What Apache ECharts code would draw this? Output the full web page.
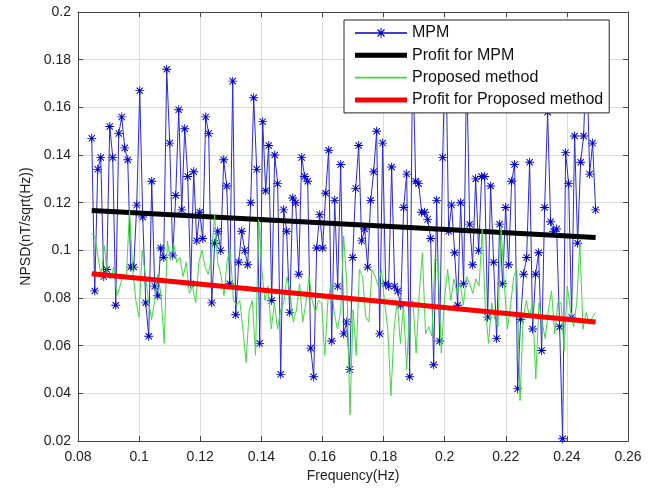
<!DOCTYPE html>
<html>
<head>
<meta charset="utf-8">
<script src="https://cdn.jsdelivr.net/npm/echarts@6/dist/echarts.min.js"></script>
<style>
html,body{margin:0;padding:0;background:#fff;}
#chart{width:656px;height:488px;}
</style>
</head>
<body>
<div id="chart"></div>
<script>
// Frequency grid of the measured spectra (Hz)
const freqStart = 0.0845;
const freqEnd = 0.2494;

// MPM NPSD values (nT/sqrt(Hz))
const mpm = [
0.147,0.083,0.134,0.139,0.089,0.092,0.152,0.139,0.077,0.149,0.156,0.143,0.138,0.093,0.093,0.119,0.167,0.114,0.078,0.064,0.129,0.085,0.081,0.101,0.097,0.176,0.145,0.098,0.123,0.159,0.117,0.151,0.131,0.086,0.133,0.104,0.116,0.105,0.156,0.149,0.078,0.103,0.108,0.100,0.138,
0.127,0.086,0.171,0.073,0.095,0.108,0.100,0.094,0.120,0.164,0.134,0.061,0.154,0.125,0.144,0.079,0.140,0.128,0.048,0.117,0.108,0.074,0.122,0.120,0.090,0.139,0.131,0.129,0.059,0.047,0.101,0.115,0.101,0.124,0.142,0.062,0.121,0.085,0.136,0.065,0.070,0.050,0.097,0.126,0.144,
0.104,0.109,0.093,0.121,0.133,0.150,0.065,0.145,0.086,0.085,0.135,0.085,0.083,0.077,0.118,0.132,0.047,0.185,0.129,0.128,0.116,0.116,0.113,0.105,0.052,0.121,0.062,0.139,0.190,0.108,0.119,0.099,0.077,0.120,0.086,0.178,0.111,0.094,0.130,0.100,0.131,0.131,0.072,0.127,0.095,0.063,
0.111,0.086,0.118,0.094,0.129,0.136,0.042,0.071,0.090,0.097,0.137,0.067,0.090,0.099,0.058,0.118,0.158,0.112,0.108,0.109,0.068,0.021,0.141,0.128,0.072,0.148,0.103,0.137,0.148,0.185,0.132,0.145,0.117
];

// Proposed method NPSD values (nT/sqrt(Hz))
const proposed = [
0.107,0.106,0.097,0.089,0.102,0.089,0.088,0.093,0.081,0.085,0.090,0.089,0.117,0.092,0.079,0.072,0.100,0.090,0.079,0.071,0.079,0.090,0.081,0.061,0.104,0.096,0.103,0.095,0.097,0.089,0.095,0.082,0.085,0.078,0.095,0.100,0.093,0.090,0.097,0.115,0.095,0.090,0.081,0.096,
0.100,0.079,0.077,0.079,0.067,0.053,0.075,0.079,0.056,0.113,0.092,0.079,0.085,0.067,0.078,0.067,0.075,0.078,0.089,0.082,0.070,0.075,0.086,0.070,0.078,0.089,0.079,0.074,0.079,0.078,0.056,0.079,0.086,0.074,0.067,0.074,0.106,0.086,0.031,0.075,0.056,0.092,0.089,
0.072,0.070,0.092,0.089,0.085,0.092,0.078,0.067,0.039,0.067,0.079,0.061,0.077,0.050,0.078,0.079,0.057,0.082,0.099,0.065,0.068,0.064,0.097,0.095,0.057,0.079,0.092,0.079,0.088,0.082,0.086,0.077,0.089,0.086,0.082,0.088,0.085,0.109,0.075,0.061,0.078,0.071,
0.068,0.110,0.086,0.067,0.077,0.089,0.092,0.037,0.072,0.079,0.072,0.078,0.046,0.078,0.070,0.063,0.075,0.083,0.065,0.078,0.078,0.058,0.085,0.075,0.068,0.078,0.103,0.067,0.074,0.069,0.072,0.074
];

// Fitted profiles (end points)
const fitX = [0.0845, 0.2494];
const fitMPM = [0.1167, 0.1054];
const fitProposed = [0.0902, 0.0700];

// Axis ranges / ticks
const xMin = 0.08, xMax = 0.26, xStep = 0.02;
const yMin = 0.02, yMax = 0.2, yStep = 0.02;

const seriesNames = ['MPM', 'Profit for MPM', 'Proposed method', 'Profit for Proposed method'];

function toPairs(vals) {
  const n = vals.length;
  return vals.map((v, i) => [freqStart + i * (freqEnd - freqStart) / (n - 1), v]);
}

const asterisk = 'path://M0,4.5L10,4.5L10,5.5L0,5.5Z M4.5,0L5.5,0L5.5,10L4.5,10Z M1.1,1.9L1.9,1.1L8.9,8.1L8.1,8.9Z M8.1,1.1L8.9,1.9L1.9,8.9L1.1,8.1Z';
// legend icons (52 x 10 boxes)
const iconMPM = 'path://M0,4.3L52,4.3L52,5.7L0,5.7Z M21,4.5L31,4.5L31,5.5L21,5.5Z M25.5,0L26.5,0L26.5,10L25.5,10Z M22.1,1.9L22.9,1.1L29.9,8.1L29.1,8.9Z M29.1,1.1L29.9,1.9L22.9,8.9L22.1,8.1Z';
const iconThick = 'path://M0,2.5L52,2.5L52,7.5L0,7.5Z M0,0L0.01,0L0.01,0.01L0,0.01Z M0,9.99L0.01,9.99L0.01,10L0,10Z';
const iconThin = 'path://M0,4.2L52,4.2L52,5.8L0,5.8Z M0,0L0.01,0L0.01,0.01L0,0.01Z M0,9.99L0.01,9.99L0.01,10L0,10Z';

const fmt = v => String(parseFloat(v.toFixed(2)));
const font = 'Liberation Sans, Arial, sans-serif';
const axisColor = '#444';

const baseX = {
  type: 'value', min: xMin, max: xMax, interval: xStep,
  axisLine: { show: true, onZero: false, lineStyle: { color: axisColor, width: 1 } },
  axisTick: { show: true, inside: true, length: 5, lineStyle: { color: axisColor } },
};
const baseY = {
  type: 'value', min: yMin, max: yMax, interval: yStep,
  axisLine: { show: true, onZero: false, lineStyle: { color: axisColor, width: 1 } },
  axisTick: { show: true, inside: true, length: 5, lineStyle: { color: axisColor } },
};

const chart = echarts.init(document.getElementById('chart'));
chart.setOption({
  backgroundColor: '#fff',
  animation: false,
  grid: { left: 78, right: 28, top: 12, bottom: 46, containLabel: false },
  xAxis: [
    Object.assign({}, baseX, {
      position: 'bottom',
      name: 'Frequency(Hz)', nameLocation: 'middle', nameGap: 27,
      nameTextStyle: { fontFamily: font, fontSize: 14, color: '#222' },
      axisLabel: { show: true, margin: 9, fontFamily: font, fontSize: 14, color: '#222', formatter: fmt },
      splitLine: { show: true, lineStyle: { color: '#dcdcdc', width: 1 } }
    }),
    Object.assign({}, baseX, {
      position: 'top',
      axisLabel: { show: false },
      splitLine: { show: false }
    })
  ],
  yAxis: [
    Object.assign({}, baseY, {
      position: 'left',
      name: 'NPSD(nT/sqrt(Hz))', nameLocation: 'middle', nameGap: 45,
      nameTextStyle: { fontFamily: font, fontSize: 14, color: '#222' },
      axisLabel: { show: true, margin: 7, fontFamily: font, fontSize: 14, color: '#222', formatter: fmt },
      splitLine: { show: true, lineStyle: { color: '#dcdcdc', width: 1 } }
    }),
    Object.assign({}, baseY, {
      position: 'right',
      axisLabel: { show: false },
      splitLine: { show: false }
    })
  ],
  legend: {
    data: [
      { name: seriesNames[0], icon: iconMPM },
      { name: seriesNames[1], icon: iconThick },
      { name: seriesNames[2], icon: iconThin },
      { name: seriesNames[3], icon: iconThick }
    ],
    orient: 'vertical',
    left: 344, top: 20,
    padding: [5, 6, 5, 11],
    itemWidth: 52, itemHeight: 14, itemGap: 6.3,
    backgroundColor: '#fff',
    borderColor: '#222', borderWidth: 1, borderRadius: 0,
    textStyle: { fontFamily: font, fontSize: 16, color: '#111', padding: [0, 0, 0, 0] },
    selectedMode: false
  },
  series: [
    {
      name: seriesNames[0], type: 'line', data: toPairs(mpm),
      symbol: asterisk, symbolSize: 9, showSymbol: true,
      lineStyle: { color: '#2a2ad6', width: 1 },
      itemStyle: { color: '#0000cc' },
      z: 2
    },
    {
      name: seriesNames[1], type: 'line', data: fitX.map((x, i) => [x, fitMPM[i]]),
      symbol: 'none',
      lineStyle: { color: '#000', width: 5 },
      itemStyle: { color: '#000' },
      z: 3
    },
    {
      name: seriesNames[2], type: 'line', data: toPairs(proposed),
      symbol: 'none',
      lineStyle: { color: '#3fd83f', width: 1 },
      itemStyle: { color: '#3fd83f' },
      z: 4
    },
    {
      name: seriesNames[3], type: 'line', data: fitX.map((x, i) => [x, fitProposed[i]]),
      symbol: 'none',
      lineStyle: { color: '#ff0000', width: 5 },
      itemStyle: { color: '#ff0000' },
      z: 5
    }
  ]
});
</script>
</body>
</html>
